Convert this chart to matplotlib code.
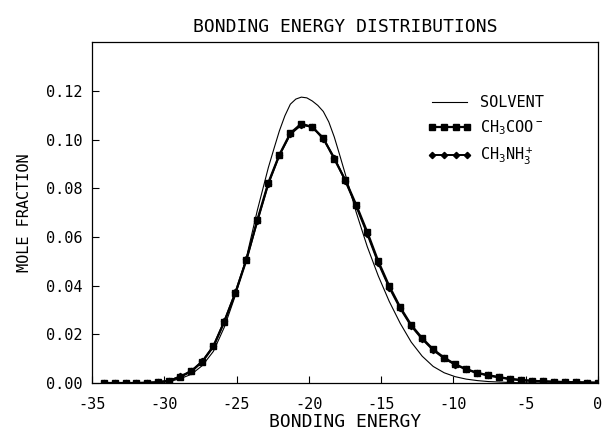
import matplotlib
matplotlib.use("Agg")
import matplotlib.pyplot as plt
from matplotlib.ticker import FixedLocator

plt.rcParams["font.family"] = ["DejaVu Sans Mono"]
plt.rcParams["mathtext.default"] = "regular"

# Bonding energy grid of the solute histograms (kcal/mol)
energy = [-34.20, -33.44, -32.68, -31.92, -31.16, -30.40, -29.64, -28.88,
          -28.12, -27.36, -26.60, -25.84, -25.08, -24.32, -23.56, -22.80,
          -22.04, -21.28, -20.52, -19.76, -19.00, -18.24, -17.48, -16.72,
          -15.96, -15.20, -14.44, -13.68, -12.92, -12.16, -11.40, -10.64,
          -9.88, -9.12, -8.36, -7.60, -6.84, -6.08, -5.32, -4.56,
          -3.80, -3.04, -2.28, -1.52, -0.76, 0.00]

# Pure solvent curve, sampled more finely around its maximum
solvent_energy = [-34.20, -33.44, -32.68, -31.92, -31.16, -30.40, -29.64,
                  -28.88, -28.12, -27.36, -26.60, -25.84, -25.08, -24.32,
                  -23.56, -22.80, -22.40, -22.04, -21.66, -21.28, -20.90,
                  -20.52, -20.14, -19.76, -19.38, -19.00, -18.62, -18.24,
                  -17.86, -17.48, -16.72, -15.96, -15.20, -14.44, -13.68,
                  -12.92, -12.16, -11.40, -10.64, -9.88, -9.12, -8.36,
                  -7.60, -6.84, -6.08, -5.32, -4.56, -3.80, -3.04, -2.28,
                  -1.52, -0.76, 0.00]
solvent = [0, 0, 0, 0, 0, 0.0002, 0.0006,
           0.0018, 0.0036, 0.0072, 0.0130, 0.0230, 0.0360, 0.0515,
           0.0710, 0.0885, 0.0965, 0.1035, 0.1097, 0.1145, 0.1166,
           0.1174, 0.1171, 0.1158, 0.1140, 0.1115, 0.1072, 0.1010,
           0.0935, 0.0858, 0.0700, 0.0560, 0.0440, 0.0335, 0.0245,
           0.0168, 0.0110, 0.0068, 0.0042, 0.0026, 0.0016, 0.0010,
           0.0006, 0.0004, 0.0002, 0.0001, 0.0001, 0, 0, 0,
           0, 0, 0]

acetate = [0, 0, 0, 0, 0.0001, 0.0003, 0.0009, 0.0026,
           0.0048, 0.0088, 0.0150, 0.0252, 0.0369, 0.0505, 0.0670, 0.0823,
           0.0937, 0.1026, 0.1065, 0.1051, 0.1006, 0.0920, 0.0834, 0.0731,
           0.0620, 0.0500, 0.0398, 0.0311, 0.0238, 0.0184, 0.0138, 0.0104,
           0.0077, 0.0057, 0.0042, 0.0032, 0.0024, 0.0017, 0.0012, 0.0009,
           0.0007, 0.0005, 0.0004, 0.0003, 0.0002, 0.0001]

methylammonium = [0, 0, 0, 0, 0.0001, 0.0004, 0.0010, 0.0027,
                  0.0050, 0.0090, 0.0152, 0.0255, 0.0372, 0.0508, 0.0665, 0.0818,
                  0.0935, 0.1022, 0.1060, 0.1052, 0.1002, 0.0925, 0.0830, 0.0725,
                  0.0612, 0.0493, 0.0392, 0.0306, 0.0234, 0.0180, 0.0135, 0.0101,
                  0.0075, 0.0056, 0.0041, 0.0031, 0.0023, 0.0016, 0.0012, 0.0009,
                  0.0007, 0.0005, 0.0004, 0.0003, 0.0002, 0.0001]

labels = ["SOLVENT", "CH$_3$COO$^-$", "CH$_3$NH$_3^+$"]
x_ticks = [-35, -30, -25, -20, -15, -10, -5, 0]
y_ticks = [0.00, 0.02, 0.04, 0.06, 0.08, 0.10, 0.12]

fig = plt.figure(figsize=(6.09, 4.34), dpi=100)
ax = fig.add_axes([0.151, 0.1175, 0.831, 0.7855])

ax.plot(solvent_energy, solvent, color="black", lw=0.8, label=labels[0])
ax.plot(energy, acetate, color="black", lw=1.6, marker="s", ms=3.8,
        label=labels[1])
ax.plot(energy, methylammonium, color="black", lw=1.4, marker="D", ms=3.2,
        label=labels[2])

ax.set_xlim(-35, 0)
ax.set_ylim(0, 0.14)
ax.xaxis.set_major_locator(FixedLocator(x_ticks))
ax.yaxis.set_major_locator(FixedLocator(y_ticks))
ax.set_xticklabels([f"{v:d}" for v in x_ticks])
ax.set_yticklabels([f"{v:.2f}" for v in y_ticks])
ax.tick_params(direction="in", length=5, width=0.8, labelsize=11,
               top=False, right=False)
ax.tick_params(axis="x", pad=10)
ax.tick_params(axis="y", pad=7)
for sp in ax.spines.values():
    sp.set_linewidth(0.9)

ax.set_title("BONDING ENERGY DISTRIBUTIONS", fontsize=13, pad=7)
ax.set_xlabel("BONDING ENERGY", fontsize=13, labelpad=1)
ax.set_ylabel("MOLE FRACTION", fontsize=11, labelpad=10)

ax.legend(loc="upper left", bbox_to_anchor=(0.636, 0.885), frameon=False,
          fontsize=11, handlelength=2.9, numpoints=4, labelspacing=0.55,
          handletextpad=0.5)

fig.savefig("out.png", dpi=100)
